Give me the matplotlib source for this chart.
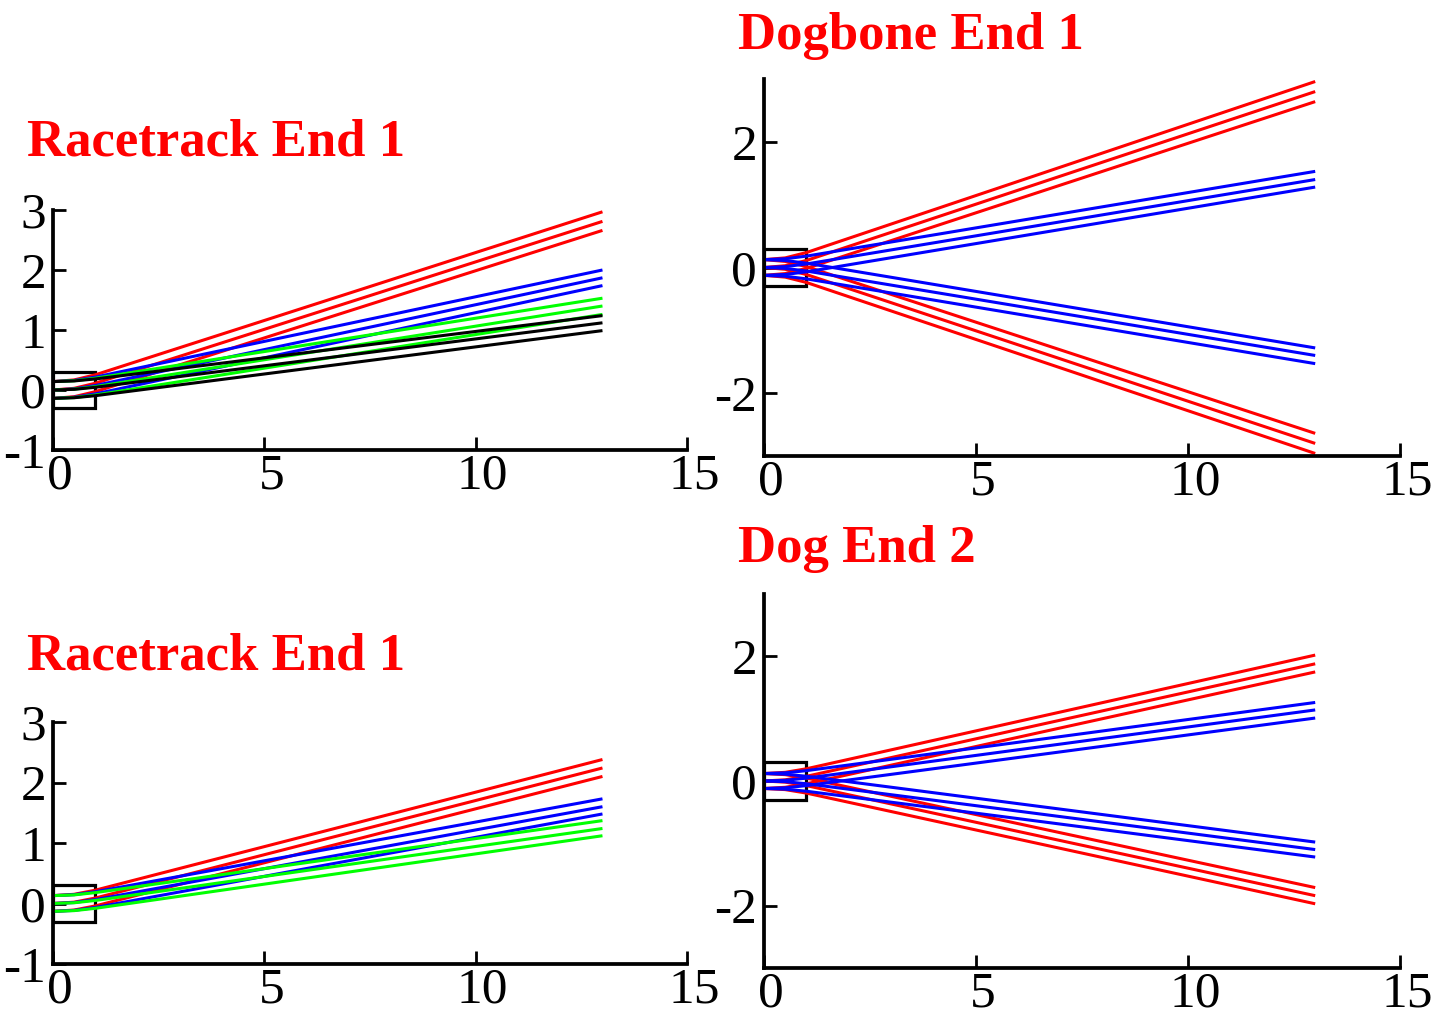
import matplotlib
matplotlib.use("Agg")
import matplotlib.pyplot as plt
from matplotlib.patches import Rectangle
from matplotlib.transforms import ScaledTranslation

plt.rcParams['font.family'] = ['Liberation Serif', 'DejaVu Serif']
plt.rcParams['axes.unicode_minus'] = False

# x positions where each ray is sampled (start, inside the box, box edge, end)
x_knots = [0, 0.5, 1, 13]

# ---- Racetrack End 1 (top) ----
rt1_red = [[0.14, 0.168, 0.253, 2.97], [0, 0.028, 0.112, 2.81], [-0.14, -0.112, -0.028, 2.66]]
rt1_blue = [[0.14, 0.159, 0.215, 2.00], [0, 0.019, 0.075, 1.87], [-0.14, -0.121, -0.065, 1.74]]
rt1_green = [[0.14, 0.154, 0.196, 1.53], [0, 0.014, 0.056, 1.40], [-0.14, -0.126, -0.084, 1.26]]
rt1_black = [[0.14, 0.151, 0.184, 1.24], [0, 0.011, 0.045, 1.12], [-0.14, -0.129, -0.095, 0.99]]

# ---- Dogbone End 1 ----
db_red = [[0.125, 0.153, 0.238, 2.96], [0, 0.028, 0.112, 2.80], [-0.125, -0.097, -0.014, 2.64],
          [0.125, 0.097, 0.014, -2.64], [0, -0.028, -0.112, -2.80], [-0.125, -0.153, -0.238, -2.96]]
db_blue = [[0.125, 0.139, 0.181, 1.53], [0, 0.014, 0.056, 1.40], [-0.125, -0.111, -0.069, 1.28],
           [0.125, 0.111, 0.069, -1.28], [0, -0.014, -0.056, -1.40], [-0.125, -0.139, -0.181, -1.53]]

# ---- Racetrack End 1 (bottom) ----
rt2_red = [[0.13, 0.152, 0.22, 2.38], [0, 0.022, 0.09, 2.24], [-0.13, -0.108, -0.04, 2.10]]
rt2_blue = [[0.13, 0.146, 0.194, 1.73], [0, 0.016, 0.064, 1.60], [-0.13, -0.114, -0.066, 1.48]]
rt2_green = [[0.13, 0.142, 0.18, 1.37], [0, 0.012, 0.05, 1.24], [-0.13, -0.118, -0.08, 1.12]]

# ---- Dog End 2 ----
de_red = [[0.12, 0.139, 0.196, 2.02], [0, 0.019, 0.075, 1.88], [-0.12, -0.101, -0.045, 1.75],
          [0.12, 0.102, 0.047, -1.71], [0, -0.018, -0.074, -1.84], [-0.12, -0.138, -0.194, -1.97]]
de_blue = [[0.12, 0.131, 0.166, 1.26], [0, 0.011, 0.046, 1.14], [-0.12, -0.109, -0.074, 1.01],
           [0.12, 0.109, 0.076, -0.98], [0, -0.011, -0.044, -1.10], [-0.12, -0.131, -0.164, -1.22]]

titles = ['Racetrack End 1', 'Dogbone End 1', 'Racetrack End 1', 'Dog End 2']
xticks = [0, 5, 10, 15]

W, H = 1443, 1018
fig = plt.figure(figsize=(W / 100, H / 100), dpi=100)

# axes boxes in pixels: left, top, right, bottom
panels = [
    dict(box=(53, 210, 687, 450), ylim=(-1, 3), yticks=[-1, 0, 1, 2, 3], title_xy=(27, 156),
         groups=[('red', rt1_red), ('blue', rt1_blue), ('#00ff00', rt1_green), ('black', rt1_black)]),
    dict(box=(764, 79, 1400, 456), ylim=(-3, 3), yticks=[-2, 0, 2], title_xy=(738, 49),
         groups=[('red', db_red), ('blue', db_blue)]),
    dict(box=(53, 722, 687, 964), ylim=(-1, 3), yticks=[-1, 0, 1, 2, 3], title_xy=(27, 670),
         groups=[('red', rt2_red), ('blue', rt2_blue), ('#00ff00', rt2_green)]),
    dict(box=(764, 594, 1400, 968), ylim=(-3, 3), yticks=[-2, 0, 2], title_xy=(738, 562),
         groups=[('red', de_red), ('blue', de_blue)]),
]

for p, title in zip(panels, titles):
    l, t, r, b = p['box']
    ax = fig.add_axes([l / W, 1 - b / H, (r - l) / W, (b - t) / H])
    ax.set_xlim(0, 15)
    ax.set_ylim(*p['ylim'])

    # entrance box
    ax.add_patch(Rectangle((0, -0.3), 1, 0.6, fill=False, edgecolor='black', lw=2.3, zorder=1))

    for color, lines in p['groups']:
        for ys in lines:
            ax.plot(x_knots, ys, color=color, lw=2.2, solid_capstyle='butt', zorder=2)

    for side in ['top', 'right']:
        ax.spines[side].set_visible(False)
    for side in ['left', 'bottom']:
        ax.spines[side].set_linewidth(2.7)

    ax.set_xticks(xticks)
    ax.set_yticks(p['yticks'])
    ax.tick_params(direction='in', length=9.5, width=2.0, labelsize=37)
    ax.tick_params(axis='x', pad=2)
    ax.tick_params(axis='y', pad=5)

    shift = ScaledTranslation(7 / 100, 0, fig.dpi_scale_trans)
    for lbl in ax.get_xticklabels():
        lbl.set_transform(lbl.get_transform() + shift)

    tx, ty = p['title_xy']
    fig.text(tx / W, 1 - ty / H, title, color='red', fontsize=38, fontweight='bold',
             ha='left', va='baseline')

fig.savefig('out.png', dpi=100)
